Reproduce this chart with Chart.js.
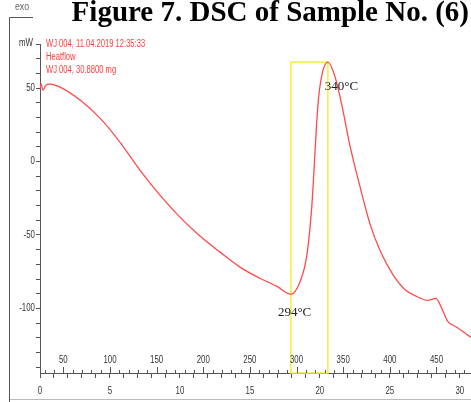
<!DOCTYPE html>
<html>
<head>
<meta charset="utf-8">
<title>DSC of Sample No. (6)</title>
<script src="https://cdn.jsdelivr.net/npm/chart.js@4.4.1/dist/chart.umd.min.js"></script>
<style>
    html, body { margin: 0; padding: 0; background: #ffffff; }
    #dscChart { display: block; }
</style>
</head>
<body>
<canvas id="dscChart" width="471" height="402"></canvas>
<script>
// heat flow run: time in minutes, heat flow in mW
const timeMin = [0, 0.07, 0.21, 0.36, 0.5, 0.71, 1.43, 2.86, 4.29, 5.71, 7.14, 8.57, 10.0, 11.43,
    12.86, 14.29, 15.71, 16.93, 17.93, 18.57, 19.07, 19.43, 19.64, 19.86, 20.14, 20.57, 21.07,
    21.57, 22.14, 22.86, 23.57, 24.29, 25.21, 26.07, 26.93, 27.71, 28.29, 28.71, 29.14, 29.79, 30.79];
const heatflowMw = [49.5, 53, 48.5, 51, 52.5, 52.7, 50.6, 41.8, 29.5, 13.2, -5.9, -22.9, -37.9, -50.8,
    -61.7, -71.9, -79.5, -85, -90.4, -82.2, -63.8, -29.7, 4.3, 38.4, 58.8, 67.7, 58.1,
    38.4, 11.1, -16.8, -42.1, -60.5, -76.9, -87.1, -91.9, -94.6, -93.2, -100, -108.8, -112.9, -119.7];

const yTicks = [-140, -130, -120, -110, -100, -90, -80, -70, -60, -50, -40, -30, -20, -10,
    0, 10, 20, 30, 40, 50, 60, 70, 80];
const yLabelled = [-100, -50, 0, 50];
const yUnitTick = 80;
const yUnit = 'mW';

const xTicks = [0, 1, 2, 3, 4, 5, 6, 7, 8, 9, 10, 11, 12, 13, 14, 15, 16, 17, 18, 19, 20,
    21, 22, 23, 24, 25, 26, 27, 28, 29, 30];
const xLabelled = [0, 5, 10, 15, 20, 25, 30];

// temperature scale drawn along the time axis (linear heating program)
const tempStart = 25;
const heatingRate = 15;
const tempTicks = [30, 40, 50, 60, 70, 80, 90, 100, 110, 120, 130, 140, 150, 160, 170, 180, 190,
    200, 210, 220, 230, 240, 250, 260, 270, 280, 290, 300, 310, 320, 330, 340, 350, 360, 370,
    380, 390, 400, 410, 420, 430, 440, 450, 460, 470, 480];
const tempLabelled = [50, 100, 150, 200, 250, 300, 350, 400, 450];

const headerLines = ['WJ 004, 11.04.2019 12:35:33', 'Heatflow', 'WJ 004, 30.8800 mg'];
const peakLabel = '340°C';
const onsetLabel = '294°C';
const titleText = 'Figure 7. DSC of Sample No. (6)';

const sansFont = "'Liberation Sans', Arial, sans-serif";
const axisColor = '#555555';
const labelColor = '#333333';

function peakIndex() {
    let k = 0;
    heatflowMw.forEach((v, i) => { if (v > heatflowMw[k]) k = i; });
    return k;
}

function minIndex() {
    let k = 0;
    heatflowMw.forEach((v, i) => { if (timeMin[i] < 24 && v < heatflowMw[k]) k = i; });
    return k;
}

// instrument software uses a narrow face, so squeeze the text horizontally
function narrowText(c, text, x, y, align, size, sx) {
    c.save();
    c.translate(x, y);
    c.scale(sx, 1);
    c.font = size + 'px ' + sansFont;
    c.textAlign = align;
    c.textBaseline = 'middle';
    c.fillText(text, 0, 0);
    c.restore();
}

const dscDecor = {
    id: 'dscDecor',
    beforeDraw(chart) {
        const c = chart.ctx;
        c.save();
        // page title, clipped at the top edge
        c.fillStyle = '#000000';
        c.font = "bold 29px 'Liberation Serif', 'Times New Roman', serif";
        c.textAlign = 'right';
        c.textBaseline = 'alphabetic';
        c.fillText(titleText, 469, 21);

        // exo bracket and frame
        c.strokeStyle = axisColor;
        c.lineWidth = 1;
        c.beginPath();
        c.moveTo(33, 17.5);
        c.lineTo(9.5, 17.5);
        c.lineTo(9.5, 402);
        c.stroke();
        c.strokeStyle = '#bbbbbb';
        c.beginPath();
        c.moveTo(10, 399.5);
        c.lineTo(471, 399.5);
        c.stroke();

        c.fillStyle = '#666666';
        narrowText(c, 'exo', 22, 7, 'center', 11, 0.8);

        // run header
        c.fillStyle = '#ff3b3b';
        headerLines.forEach((line, i) => narrowText(c, line, 46, 44.5 + i * 13, 'left', 10, 0.76));
        c.restore();
    },
    beforeDatasetsDraw(chart) {
        const { ctx: c, scales: { x, y } } = chart;
        const p = peakIndex();
        const m = minIndex();
        const left = x.getPixelForValue(timeMin[m]);
        const right = x.getPixelForValue(timeMin[p]);
        const top = y.getPixelForValue(heatflowMw[p]);
        const bottom = y.getPixelForValue(y.min);
        c.save();
        c.strokeStyle = '#f4ef3a';
        c.lineWidth = 1.5;
        c.strokeRect(left, top, right - left, bottom - top);
        c.restore();
    },
    afterDraw(chart) {
        const { ctx: c, scales: { x, y } } = chart;
        const axisY = y.getPixelForValue(y.min);
        const axisX = x.getPixelForValue(x.min);
        c.save();
        // temperature ticks above the time axis
        c.strokeStyle = axisColor;
        c.lineWidth = 1;
        tempTicks.forEach(t => {
            const px = Math.round(x.getPixelForValue((t - tempStart) / heatingRate)) + 0.5;
            const len = tempLabelled.includes(t) ? 6 : 3;
            c.beginPath();
            c.moveTo(px, axisY);
            c.lineTo(px, axisY - len);
            c.stroke();
        });

        c.fillStyle = labelColor;
        tempLabelled.forEach(t => {
            narrowText(c, String(t), x.getPixelForValue((t - tempStart) / heatingRate), axisY - 13, 'center', 10.5, 0.75);
        });
        xLabelled.forEach(v => narrowText(c, String(v), x.getPixelForValue(v), axisY + 18, 'center', 10.5, 0.75));
        yLabelled.forEach(v => narrowText(c, String(v), axisX - 5, y.getPixelForValue(v), 'right', 10.5, 0.75));
        narrowText(c, yUnit, axisX - 7, y.getPixelForValue(yUnitTick) - 1, 'right', 10.5, 0.75);

        // peak and onset annotations
        const p = peakIndex();
        const m = minIndex();
        c.fillStyle = '#222222';
        c.font = "13px 'Liberation Serif', 'Times New Roman', serif";
        c.textAlign = 'left';
        c.textBaseline = 'middle';
        c.fillText(peakLabel, x.getPixelForValue(timeMin[p]) - 3, y.getPixelForValue(heatflowMw[p]) + 25);
        c.fillText(onsetLabel, x.getPixelForValue(timeMin[m]) - 13, y.getPixelForValue(heatflowMw[m]) + 18);
        c.restore();
    }
};

const ctx = document.getElementById('dscChart');

new Chart(ctx, {
    type: 'line',
    data: {
        datasets: [{
            data: timeMin.map((t, i) => ({ x: t, y: heatflowMw[i] })),
            borderColor: '#ff4a4a',
            borderWidth: 1.3,
            pointRadius: 0,
            cubicInterpolationMode: 'monotone',
            fill: false
        }]
    },
    options: {
        responsive: false,
        animation: false,
        devicePixelRatio: 1,
        layout: { padding: { top: 44, left: 0, right: 0, bottom: 0 } },
        plugins: {
            legend: { display: false },
            tooltip: { enabled: false }
        },
        scales: {
            x: {
                type: 'linear',
                min: 0,
                max: 30.8,
                afterBuildTicks: scale => { scale.ticks = xTicks.map(v => ({ value: v })); },
                afterFit: scale => { scale.height = 29; },
                ticks: { display: false, autoSkip: false },
                grid: {
                    drawOnChartArea: false,
                    tickLength: 5,
                    color: axisColor
                },
                border: { color: axisColor, width: 1 }
            },
            y: {
                min: -144,
                max: 80,
                afterBuildTicks: scale => { scale.ticks = yTicks.map(v => ({ value: v })); },
                afterFit: scale => { scale.width = 40; },
                ticks: { display: false, autoSkip: false },
                grid: { drawOnChartArea: false, tickLength: 4, color: axisColor },
                border: { color: axisColor, width: 1 }
            }
        }
    },
    plugins: [dscDecor]
});
</script>
</body>
</html>
